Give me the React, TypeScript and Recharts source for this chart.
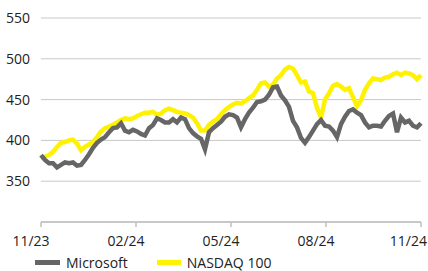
import React from 'react';
import { LineChart, Line, XAxis, YAxis, CartesianGrid, Legend } from 'recharts';

// Microsoft share price (USD), roughly every 4 days, 11/23 to 11/24
const msft = [
  382, 376, 372, 372, 367, 370, 373, 372, 373, 369, 370, 376, 383, 391, 397, 401,
  404, 410, 415, 416, 421, 412, 410, 413, 411, 408, 406, 415, 419, 427, 425, 422,
  422, 426, 422, 428, 426, 415, 409, 405, 402, 389, 410, 415, 419, 423, 429, 432,
  431, 428, 416, 426, 434, 440, 447, 448, 450, 456, 465, 466, 455, 449, 441, 424,
  416, 403, 397, 404, 412, 420, 425, 418, 417, 412, 404, 420, 429, 436, 438, 434,
  431, 422, 416, 418, 418, 417, 424, 430, 433, 410, 428, 422, 424, 418, 416, 421,
];

// NASDAQ 100, rebased to the Microsoft price
const ndx = [
  378, 380, 382, 386, 392, 397, 398, 400, 401, 396, 388, 392, 395, 398, 404, 411,
  415, 417, 419, 422, 425, 427, 426, 427, 430, 432, 434, 434, 435, 431, 433, 437,
  439, 437, 435, 434, 433, 431, 428, 421, 412, 412, 419, 423, 426, 432, 437, 441,
  444, 446, 445, 448, 452, 455, 462, 470, 471, 466, 468, 476, 480, 487, 490, 488,
  480, 471, 472, 460, 458, 440, 428, 450, 458, 467, 469, 466, 462, 464, 453, 442,
  449, 462, 470, 476, 475, 474, 477, 478, 481, 483, 480, 483, 482, 480, 475, 480,
];

const tickLabels = ['11/23', '02/24', '05/24', '08/24', '11/24'];
const tickMonths = [0, 3, 6, 9, 12];
const yTicks = [300, 350, 400, 450, 500, 550];

const FONT = '"Open Sans", "Noto Sans", Arial, sans-serif';
const GRAY = '#666666';
const YELLOW = '#FFF200';

const data = msft.map((v, i) => ({
  m: (i * 12) / (msft.length - 1),
  msft: v,
  ndx: ndx[i],
}));

// x labels sit a little left of their tick, the last one kept inside the frame
const XTick = (props: any) => {
  const { x, y, payload, index } = props;
  const last = index === tickLabels.length - 1;
  return (
    <text
      x={last ? 427 : x - 10}
      y={y}
      dy="0.71em"
      textAnchor={last ? 'end' : 'middle'}
      fontSize={14}
      fill="#222"
      fontFamily={FONT}
    >
      {tickLabels[tickMonths.indexOf(payload.value)]}
    </text>
  );
};

const LegendContent = () => (
  <div style={{ display: 'flex', alignItems: 'center', fontFamily: FONT, fontSize: 14, color: '#222', paddingLeft: 35, paddingTop: 2 }}>
    <span style={{ display: 'inline-block', width: 25, height: 5, background: GRAY, marginRight: 6 }} />
    <span style={{ marginRight: 29 }}>Microsoft</span>
    <span style={{ display: 'inline-block', width: 24, height: 5, background: YELLOW, marginRight: 6 }} />
    <span>NASDAQ 100</span>
  </div>
);

const App: React.FC = () => {
  return (
    <div style={{ position: 'absolute', left: 0, top: 0, width: 428, height: 271, background: '#fff' }}>
      <LineChart width={428} height={271} data={data} margin={{ top: 18, right: 7, left: 0, bottom: 0 }}>
        <CartesianGrid vertical={false} stroke="#c8c8c8" strokeWidth={1} />
        <XAxis
          dataKey="m"
          type="number"
          domain={[0, 12]}
          ticks={tickMonths}
          axisLine={{ stroke: '#bfbfbf', strokeWidth: 1.5 }}
          tickLine={{ stroke: '#bfbfbf', strokeWidth: 1.5 }}
          tickSize={5}
          tickMargin={9}
          height={29}
          interval={0}
          tick={<XTick />}
        />
        <YAxis
          domain={[300, 550]}
          ticks={yTicks}
          tickFormatter={(v: number) => (v === 300 ? '' : String(v))}
          axisLine={false}
          tickLine={false}
          width={41}
          tickMargin={5}
          interval={0}
          tick={{ fontSize: 14, fill: '#222', fontFamily: FONT }}
        />
        <Legend verticalAlign="bottom" align="left" height={20} content={<LegendContent />} />
        <Line type="linear" dataKey="ndx" stroke={YELLOW} strokeWidth={4.5} dot={false} isAnimationActive={false} />
        <Line type="linear" dataKey="msft" stroke={GRAY} strokeWidth={4.5} dot={false} isAnimationActive={false} />
      </LineChart>
    </div>
  );
};

export default App;
